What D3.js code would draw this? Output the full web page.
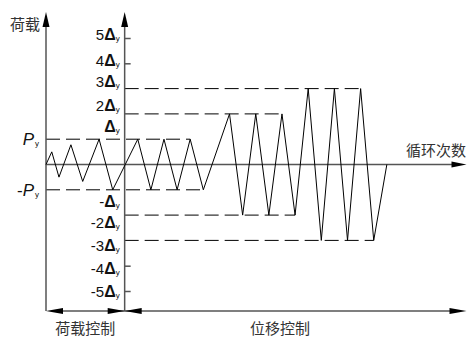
<!DOCTYPE html>
<html><head><meta charset="utf-8">
<script src="https://cdn.jsdelivr.net/npm/d3@7"></script>
<style>body{margin:0;background:#fff}svg{display:block}</style>
</head><body>
<svg id="c" width="467" height="337"></svg>
<script>
// ---- data ----
// loading history: t = step along the cycle axis, v = amplitude in units of Py / Δy
const steps  = [0, 0.44, 0.99, 1.9, 2.8, 4.05, 5.09, 7, 8, 9, 10, 11, 12, 14, 15, 16, 17, 18, 19, 20, 21, 22, 23, 24, 25, 26];
const values = [0, 0.5, -0.5, 0.78, -0.67, 1, -1, 1, -1, 1, -1, 1, -1, 2, -2, 2, -2, 2, -2, 3, -3, 3, -3, 3, -3, 0];
// reference (dashed) levels: level, start step, end step
const dashLevels = [1, -1, 2, -2, 3, -3];
const dashStart  = [0, 0, 6, 6, 6, 6];
const dashEnd    = [11, 12, 18, 19, 24, 25];
// displacement tick labels on the middle axis
const dispTickValues = [5, 4, 3, 2, 1, -1, -2, -3, -4, -5];
const dispTickLabels = ["5", "4", "3", "2", "", "-", "-2", "-3", "-4", "-5"];
const dispLabelAt    = [5.12, 4.13, 3.3, 2.35, 1.52, -1.48, -2.31, -3.22, -4.13, -5.0];
const shortTicks = [5, 4, -4, -5];
const loadLabels = ["", "-"];   // Py, -Py
const loadLabelValues = [1, -1];
const phaseSplit = 6;      // step where load control ends
const tEnd = 32;

const svg = d3.select("#c");
const x = d3.scaleLinear().domain([0, tEnd]).range([46, 465.5]);
const y = d3.scaleLinear().domain([-5, 5]).range([291, 38]);

const axisColor = "#555";
const topY = 12, botY = 311;

// arrow helper
function arrow(tipX, tipY, dir, len, half) {
  let pts;
  if (dir === "up") pts = [[tipX, tipY], [tipX - half, tipY + len], [tipX + half, tipY + len]];
  if (dir === "right") pts = [[tipX, tipY], [tipX - len, tipY - half], [tipX - len, tipY + half]];
  if (dir === "left") pts = [[tipX, tipY], [tipX + len, tipY - half], [tipX + len, tipY + half]];
  svg.append("polygon").attr("points", pts.map(p => p.join(",")).join(" ")).attr("fill", "#000");
}

// dashed reference lines
svg.append("g").selectAll("line").data(dashLevels).join("line")
  .attr("x1", (d, i) => x(dashStart[i])).attr("x2", (d, i) => x(dashEnd[i]))
  .attr("y1", d => y(d)).attr("y2", d => y(d))
  .attr("stroke", "#000").attr("stroke-width", 1).attr("stroke-dasharray", "14,6");

// axes
const g = svg.append("g").attr("stroke", axisColor).attr("stroke-width", 1.5);
g.append("line").attr("x1", x(0)).attr("x2", x(0)).attr("y1", topY + 10).attr("y2", botY);
g.append("line").attr("x1", x(phaseSplit)).attr("x2", x(phaseSplit)).attr("y1", topY + 10).attr("y2", botY);
g.append("line").attr("x1", x(0)).attr("x2", x(tEnd) - 8).attr("y1", y(0)).attr("y2", y(0));
g.append("line").attr("x1", x(0) + 8).attr("x2", x(tEnd) - 8).attr("y1", botY).attr("y2", botY);

// short ticks on the displacement axis
const tickAxis = d3.axisRight(y).tickValues(shortTicks).tickSize(6).tickFormat("");
const ta = svg.append("g").attr("transform", `translate(${x(phaseSplit)},0)`).call(tickAxis);
ta.select(".domain").remove();
ta.selectAll(".tick line").attr("stroke", axisColor).attr("stroke-width", 1.5);

// arrows
arrow(x(0), topY, "up", 15, 3.5);
arrow(x(phaseSplit), topY, "up", 15, 3.5);
arrow(x(tEnd) + 1, y(0), "right", 15, 3);
arrow(x(0), botY, "left", 17, 3);
arrow(x(phaseSplit), botY, "right", 17, 3);
arrow(x(phaseSplit), botY, "left", 17, 3);
arrow(x(tEnd) + 1, botY, "right", 17, 3);

// loading history
const pts = steps.map((t, i) => [x(t), y(values[i])]);
svg.append("path").attr("d", d3.line()(pts))
  .attr("fill", "none").attr("stroke", "#000").attr("stroke-width", 1).attr("stroke-linejoin", "miter");

// displacement labels
const lab = svg.append("g").attr("font-family", "'Liberation Sans', Arial, sans-serif").attr("fill", "#111");
dispTickValues.forEach((v, i) => {
  const t = lab.append("text").attr("x", x(phaseSplit) - 5).attr("y", y(dispLabelAt[i]) + 5.5)
    .attr("text-anchor", "end").attr("font-size", 15);
  t.append("tspan").text(dispTickLabels[i]);
  t.append("tspan").attr("font-weight", "bold").attr("font-size", 16).text("Δ");
  t.append("tspan").attr("font-size", 8).attr("dy", 1).text("y");
});

// load labels
loadLabelValues.forEach((v, i) => {
  const t = lab.append("text").attr("x", x(0) - 7).attr("y", y(v) + 6)
    .attr("text-anchor", "end").attr("font-size", 17);
  t.append("tspan").text(loadLabels[i]);
  t.append("tspan").attr("font-style", "italic").text("P");
  t.append("tspan").attr("font-size", 8).attr("dy", 1).attr("dx", 1).text("y");
});

// Chinese titles
const cn = svg.append("g").attr("font-family", "'Noto Sans CJK SC', sans-serif").attr("fill", "#333").attr("font-size", 15);
cn.append("text").attr("x", 10).attr("y", 30).text("荷载");
cn.append("text").attr("x", 466).attr("y", 156).attr("text-anchor", "end").text("循环次数");
cn.append("text").attr("x", (x(0) + x(phaseSplit)) / 2).attr("y", 334).attr("text-anchor", "middle").text("荷载控制");
cn.append("text").attr("x", 280).attr("y", 334).attr("text-anchor", "middle").text("位移控制");
</script>
</body></html>
